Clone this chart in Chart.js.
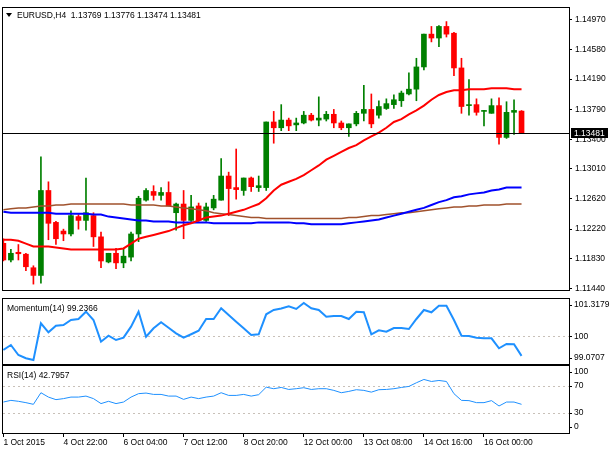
<!DOCTYPE html>
<html>
<head>
<meta charset="utf-8">
<script src="https://cdn.jsdelivr.net/npm/chart.js@4.4.1/dist/chart.umd.min.js"></script>
<style>
html,body{margin:0;padding:0;background:#fff;}
#wrap{position:relative;width:610px;height:450px;overflow:hidden;background:#fff;}
canvas{position:absolute;left:0;}
</style>
</head>
<body>
<div id="wrap">
<canvas id="cMain" width="610" height="298" style="top:0px"></canvas>
<canvas id="cMom" width="610" height="69" style="top:297px"></canvas>
<canvas id="cRsi" width="610" height="86" style="top:364px"></canvas>
</div>
<script>
// ---- data ----
const symbolTitle = "EURUSD,H4";
const opens = [1.12032,1.11813,1.11914,1.11889,1.11711,1.11610,1.12726,1.12307,1.12193,1.12155,
 1.12383,1.12333,1.12396,1.12117,1.11787,1.11901,1.11775,1.11851,1.12155,1.12599,
 1.12713,1.12662,1.12700,1.12434,1.12548,1.12333,1.12523,1.12333,1.12497,1.12599,
 1.12916,1.12764,1.12726,1.12890,1.12764,1.12764,1.13626,1.13550,1.13651,1.13588,
 1.13613,1.13715,1.13651,1.13664,1.13727,1.13613,1.13550,1.13601,1.13740,1.13791,
 1.13715,1.13803,1.13854,1.13905,1.13994,1.14057,1.14349,1.14780,1.14729,1.14881,
 1.14792,1.14336,1.13841,1.13854,1.13765,1.13740,1.13841,1.13423,1.13753,1.13769];
const highs = [1.12092,1.11952,1.12016,1.11901,1.11737,1.13169,1.12840,1.12320,1.12218,1.12459,
 1.12409,1.12890,1.12434,1.12180,1.11901,1.11965,1.11965,1.12180,1.12650,1.12751,
 1.12789,1.12764,1.12840,1.12561,1.12726,1.12662,1.12561,1.12561,1.12662,1.13144,
 1.12967,1.13271,1.12890,1.12903,1.12916,1.13626,1.13765,1.13854,1.13677,1.13677,
 1.13765,1.13740,1.13956,1.13765,1.13791,1.13639,1.13601,1.13765,1.14108,1.13994,
 1.13905,1.13930,1.13981,1.14032,1.14273,1.14463,1.14780,1.14881,1.14894,1.14945,
 1.14805,1.14463,1.14184,1.13930,1.13778,1.13930,1.13943,1.13892,1.13918,1.13776];
const lows = [1.11800,1.11787,1.11813,1.11673,1.11496,1.11508,1.12079,1.12016,1.12066,1.12130,
 1.12218,1.12206,1.11990,1.11711,1.11775,1.11699,1.11711,1.11800,1.12054,1.12586,
 1.12599,1.12599,1.12523,1.12206,1.12092,1.12320,1.12320,1.12320,1.12472,1.12599,
 1.12396,1.12612,1.12662,1.12713,1.12713,1.12726,1.13347,1.13512,1.13512,1.13512,
 1.13601,1.13639,1.13575,1.13639,1.13550,1.13524,1.13436,1.13575,1.13639,1.13550,
 1.13677,1.13791,1.13803,1.13829,1.13981,1.13905,1.14311,1.14678,1.14615,1.14742,
 1.14235,1.13740,1.13715,1.13715,1.13575,1.13740,1.13334,1.13410,1.13461,1.13474];
const closes = [1.11813,1.11901,1.11895,1.11724,1.11610,1.12726,1.12295,1.12092,1.12155,1.12396,
 1.12333,1.12434,1.12117,1.11800,1.11901,1.11775,1.11863,1.12155,1.12624,1.12726,
 1.12662,1.12700,1.12523,1.12548,1.12333,1.12510,1.12333,1.12510,1.12612,1.12916,
 1.12751,1.12738,1.12890,1.12776,1.12789,1.13626,1.13550,1.13651,1.13575,1.13613,
 1.13715,1.13651,1.13677,1.13727,1.13613,1.13550,1.13601,1.13740,1.13791,1.13601,
 1.13829,1.13867,1.13918,1.14006,1.14057,1.14349,1.14780,1.14729,1.14881,1.14780,
 1.14336,1.13829,1.13854,1.13753,1.13778,1.13841,1.13423,1.13753,1.13778,1.13481];
const maRed = [1.12079,1.12079,1.12066,1.12028,1.11990,1.11990,1.11990,1.11978,1.11965,1.11952,
 1.11952,1.11952,1.11952,1.11952,1.11952,1.11952,1.11965,1.12028,1.12092,1.12117,
 1.12142,1.12168,1.12193,1.12231,1.12269,1.12295,1.12333,1.12371,1.12383,1.12396,
 1.12421,1.12447,1.12472,1.12510,1.12548,1.12624,1.12726,1.12802,1.12840,1.12878,
 1.12929,1.12992,1.13055,1.13131,1.13182,1.13233,1.13284,1.13322,1.13385,1.13436,
 1.13486,1.13550,1.13626,1.13664,1.13727,1.13778,1.13841,1.13918,1.13981,1.14019,
 1.14044,1.14044,1.14057,1.14057,1.14057,1.14070,1.14070,1.14070,1.14057,1.14057];
const maBlue = [1.12447,1.12434,1.12434,1.12434,1.12434,1.12434,1.12434,1.12421,1.12421,1.12421,
 1.12421,1.12421,1.12409,1.12409,1.12383,1.12371,1.12358,1.12345,1.12333,1.12333,
 1.12320,1.12320,1.12320,1.12307,1.12307,1.12307,1.12307,1.12307,1.12295,1.12295,
 1.12295,1.12295,1.12295,1.12295,1.12307,1.12307,1.12307,1.12307,1.12307,1.12295,
 1.12295,1.12282,1.12282,1.12282,1.12282,1.12282,1.12295,1.12307,1.12320,1.12333,
 1.12345,1.12371,1.12396,1.12421,1.12447,1.12472,1.12497,1.12535,1.12573,1.12599,
 1.12637,1.12650,1.12675,1.12688,1.12700,1.12726,1.12738,1.12764,1.12764,1.12764];
const maBrown = [1.12472,1.12485,1.12497,1.12497,1.12510,1.12523,1.12523,1.12535,1.12535,1.12548,
 1.12548,1.12548,1.12548,1.12548,1.12548,1.12548,1.12548,1.12535,1.12535,1.12535,
 1.12535,1.12523,1.12523,1.12510,1.12497,1.12485,1.12472,1.12459,1.12434,1.12421,
 1.12409,1.12396,1.12383,1.12371,1.12371,1.12358,1.12358,1.12358,1.12358,1.12358,
 1.12358,1.12358,1.12358,1.12358,1.12358,1.12358,1.12371,1.12371,1.12383,1.12396,
 1.12396,1.12409,1.12421,1.12434,1.12434,1.12447,1.12459,1.12472,1.12485,1.12497,
 1.12510,1.12510,1.12523,1.12523,1.12535,1.12535,1.12535,1.12548,1.12548,1.12548];
const momentum = [99.469,99.665,99.272,99.142,99.0707,100.520,100.165,100.425,100.453,100.650,
 100.689,100.976,100.650,99.795,100.031,99.862,99.953,100.386,100.976,99.992,
 100.323,100.559,100.346,100.126,99.953,100.087,100.228,100.689,100.689,101.110,
 100.846,100.583,100.323,100.059,100.087,100.874,101.043,101.102,101.189,101.083,
 101.3179,101.110,101.043,100.780,100.807,100.807,100.689,100.976,100.953,100.087,
 100.244,100.189,100.335,100.335,100.295,100.689,101.043,100.953,101.213,101.213,
 100.650,100.031,100.020,99.953,99.929,99.929,99.535,99.705,99.693,99.2366];
const rsi = [46.2,48.7,47.3,45.3,42.8,60.1,53.6,49.8,51.3,53.6,
 53.6,55.1,51.3,43.9,47.3,43.9,46.2,53.6,58.7,59.6,
 57.6,57.6,55.1,55.1,50.2,53.6,51.3,53.6,55.1,60.1,
 56.1,56.1,57.6,55.1,57.2,68.4,66.1,68.0,65.0,66.1,
 67.6,65.0,66.1,66.1,63.6,60.1,62.1,64.6,63.6,61.0,
 64.6,65.0,66.1,68.0,69.5,75.0,79.9,76.9,78.4,76.9,
 58.7,48.7,48.3,45.3,45.3,48.3,40.3,46.2,46.2,42.7957];
const priceTicks = [1.14970,1.14580,1.14190,1.13790,1.13400,1.13010,1.12620,1.12220,1.11830,1.11440];
const momTicks = [101.3179,100,99.0707];
const momLevels = [100];
const rsiTicks = [100,70,30,0];
const rsiLevels = [70,30];
const tickBars = [0,8,16,24,32,40,48,56,64];
const tickLabels = ["1 Oct 2015","4 Oct 22:00","6 Oct 04:00","7 Oct 12:00","8 Oct 20:00","12 Oct 00:00","13 Oct 08:00","14 Oct 16:00","16 Oct 00:00"];

// ---- styling / layout ----
const FONT = '"Liberation Sans", Arial, sans-serif';
const FS = 8.5;
const GREEN = '#008000', RED = '#ff0000';
const X_MIN = -0.05, X_MAX = 75.32;
const AXIS_W = 41;

const idx = opens.map((_, i) => i);
const candleColor = idx.map(i => closes[i] >= opens[i] ? GREEN : RED);
const last = idx.length - 1;

function xScale(show) {
  const s = {
    type: 'linear', min: X_MIN, max: X_MAX, offset: false, display: show,
    grid: { offset: false, drawOnChartArea: false, drawTicks: true, tickLength: 4, tickColor: '#000' },
    border: { display: false }
  };
  if (show) {
    s.afterBuildTicks = sc => { sc.ticks = tickBars.map(v => ({ value: v })); };
    s.afterFit = sc => { sc.height = 17; };
    s.ticks = {
      autoSkip: false, maxRotation: 0, minRotation: 0, align: 'start', padding: 1,
      color: '#000', font: { family: FONT, size: FS },
      callback: v => tickLabels[tickBars.indexOf(v)]
    };
  }
  return s;
}

const framePlugin = {
  id: 'frame',
  afterDraw(c) {
    const { ctx, chartArea: a } = c;
    ctx.save();
    ctx.strokeStyle = '#000'; ctx.lineWidth = 1;
    ctx.strokeRect(Math.round(a.left) - 0.5, Math.round(a.top) - 0.5,
                   Math.round(a.right - a.left) + 1, Math.round(a.bottom - a.top) + 1);
    ctx.restore();
  }
};
function panelLabel(text) {
  return {
    id: 'panelLabel',
    afterDraw(c) {
      const ctx = c.ctx, a = c.chartArea;
      ctx.save();
      ctx.font = FS + 'px ' + FONT; ctx.fillStyle = '#000';
      ctx.textBaseline = 'middle'; ctx.textAlign = 'left';
      ctx.fillText(text, a.left + 4, a.top + 9.5);
      ctx.restore();
    }
  };
}
function levelLines(levels) {
  return {
    id: 'levels',
    beforeDatasetsDraw(c) {
      const ctx = c.ctx, a = c.chartArea, s = c.scales.y;
      ctx.save();
      ctx.strokeStyle = '#c8c0b8'; ctx.lineWidth = 1; ctx.setLineDash([2, 3]);
      levels.forEach(v => {
        const y = Math.round(s.getPixelForValue(v)) + 0.5;
        ctx.beginPath(); ctx.moveTo(a.left, y); ctx.lineTo(a.right, y); ctx.stroke();
      });
      ctx.restore();
    }
  };
}
function sideLabels(values) {
  return {
    id: 'sideLabels',
    afterDraw(c) {
      const ctx = c.ctx, a = c.chartArea, s = c.scales.y;
      ctx.save();
      ctx.font = FS + 'px ' + FONT; ctx.fillStyle = '#000'; ctx.strokeStyle = '#000'; ctx.lineWidth = 1;
      ctx.textBaseline = 'middle'; ctx.textAlign = 'left';
      values.forEach(v => {
        const y = s.getPixelForValue(v);
        const ly = Math.min(Math.max(y, a.top + 6), a.bottom - 6);
        const ty = Math.round(ly) + 0.5;
        ctx.beginPath(); ctx.moveTo(a.right, ty); ctx.lineTo(a.right + 3, ty); ctx.stroke();
        ctx.fillText(String(v), a.right + 5, ly);
      });
      ctx.restore();
    }
  };
}
const titlePlugin = {
  id: 'title',
  afterDraw(c) {
    const ctx = c.ctx, a = c.chartArea;
    ctx.save();
    ctx.fillStyle = '#000';
    ctx.beginPath(); ctx.moveTo(a.left + 3, a.top + 5); ctx.lineTo(a.left + 9, a.top + 5); ctx.lineTo(a.left + 6, a.top + 9); ctx.closePath(); ctx.fill();
    ctx.font = FS + 'px ' + FONT; ctx.textBaseline = 'middle'; ctx.textAlign = 'left';
    const t = symbolTitle + '  ' + [opens[last], highs[last], lows[last], closes[last]].map(v => v.toFixed(5)).join(' ');
    ctx.fillText(t, a.left + 14, a.top + 7.5);
    ctx.restore();
  }
};
const priceLine = {
  id: 'priceLine',
  afterDatasetsDraw(c) {
    const ctx = c.ctx, a = c.chartArea, s = c.scales.y;
    const y = Math.round(s.getPixelForValue(closes[last])) + 0.5;
    ctx.save(); ctx.strokeStyle = '#000'; ctx.lineWidth = 1;
    ctx.beginPath(); ctx.moveTo(a.left, y); ctx.lineTo(a.right, y); ctx.stroke();
    ctx.restore();
  },
  afterDraw(c) {
    const ctx = c.ctx, a = c.chartArea, s = c.scales.y;
    const y = Math.round(s.getPixelForValue(closes[last]));
    ctx.save();
    ctx.fillStyle = '#000'; ctx.fillRect(a.right + 2, y - 5, 37, 10);
    ctx.fillStyle = '#fff'; ctx.font = FS + 'px ' + FONT; ctx.textBaseline = 'middle'; ctx.textAlign = 'left';
    ctx.fillText(closes[last].toFixed(5), a.right + 5, y + 0.5);
    ctx.restore();
  }
};

const common = {
  responsive: false, animation: false, devicePixelRatio: 1,
  events: [],
  plugins: { legend: { display: false }, tooltip: { enabled: false }, title: { display: false } }
};

function lineDs(arr, color, w, order) {
  return { type: 'line', data: idx.map(i => ({ x: i, y: arr[i] })), borderColor: color, borderWidth: w,
           pointRadius: 0, tension: 0, fill: false, order: order };
}

// ---- main price panel ----
new Chart(document.getElementById('cMain'), {
  type: 'bar',
  data: {
    datasets: [
      lineDs(maRed, '#ff0000', 2, 0),
      lineDs(maBlue, '#0000ff', 2, 1),
      lineDs(maBrown, '#a0522d', 1.5, 2),
      { type: 'bar', data: idx.map(i => ({ x: i, y: [opens[i], closes[i]] })), backgroundColor: candleColor,
        borderWidth: 0, barThickness: 5, grouped: false, order: 4 },
      { type: 'bar', data: idx.map(i => ({ x: i, y: [lows[i], highs[i]] })), backgroundColor: candleColor,
        borderWidth: 0, barThickness: 1, grouped: false, order: 5 }
    ]
  },
  options: Object.assign({}, common, {
    layout: { padding: { left: 3, top: 3, bottom: 3, right: 0 } },
    scales: {
      x: xScale(false),
      y: {
        type: 'linear', position: 'right', min: 1.11420, max: 1.15122,
        afterBuildTicks: s => { s.ticks = priceTicks.map(v => ({ value: v })); },
        afterFit: s => { s.width = AXIS_W; },
        ticks: { padding: 3, color: '#000', font: { family: FONT, size: FS }, callback: v => Number(v).toFixed(5) },
        grid: { drawOnChartArea: false, drawTicks: true, tickLength: 3, tickColor: '#000' },
        border: { display: false }
      }
    }
  }),
  plugins: [priceLine, framePlugin, titlePlugin]
});

// ---- momentum panel ----
new Chart(document.getElementById('cMom'), {
  type: 'line',
  data: { datasets: [ lineDs(momentum, '#1e90ff', 2, 0) ] },
  options: Object.assign({}, common, {
    layout: { padding: { left: 3, top: 2, bottom: 2, right: 0 } },
    scales: {
      x: xScale(false),
      y: {
        type: 'linear', position: 'right', min: 98.917, max: 101.476,
        afterFit: s => { s.width = AXIS_W; },
        ticks: { display: false },
        grid: { display: false },
        border: { display: false }
      }
    }
  }),
  plugins: [levelLines(momLevels), framePlugin, sideLabels(momTicks),
            panelLabel('Momentum(14) ' + momentum[last].toFixed(4))]
});

// ---- RSI panel ----
new Chart(document.getElementById('cRsi'), {
  type: 'line',
  data: { datasets: [ lineDs(rsi, '#1e90ff', 1, 0) ] },
  options: Object.assign({}, common, {
    layout: { padding: { left: 3, top: 2, bottom: 0, right: 0 } },
    scales: {
      x: xScale(true),
      y: {
        type: 'linear', position: 'right', min: 0, max: 100,
        afterFit: s => { s.width = AXIS_W; },
        ticks: { display: false },
        grid: { display: false },
        border: { display: false }
      }
    }
  }),
  plugins: [levelLines(rsiLevels), framePlugin, sideLabels(rsiTicks),
            panelLabel('RSI(14) ' + rsi[last].toFixed(4))]
});
</script>
</body>
</html>
